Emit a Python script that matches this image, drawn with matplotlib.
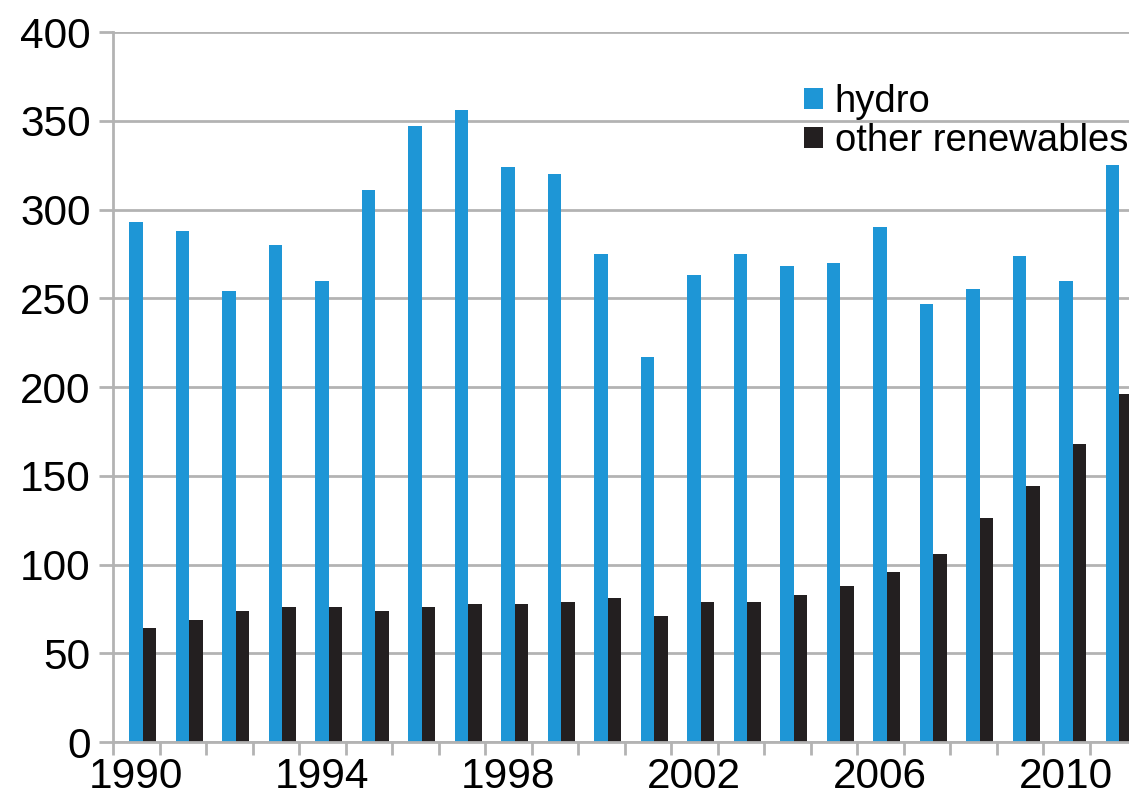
import matplotlib
matplotlib.use("Agg")
import matplotlib.pyplot as plt
import numpy as np

plt.rcParams['font.family'] = ['Liberation Sans', 'DejaVu Sans']

years = list(range(1990, 2012))
hydro = [293, 288, 254, 280, 260, 311, 347, 356, 324, 320, 275, 217,
         263, 275, 268, 270, 290, 247, 255, 274, 260, 325]
other = [64, 69, 74, 76, 76, 74, 76, 78, 78, 79, 81, 71,
         79, 79, 83, 88, 96, 106, 126, 144, 168, 196]
tick_labels = ['1990', '1994', '1998', '2002', '2006', '2010']

blue = '#1e96d6'
dark = '#231f20'
grey = '#b3b3b3'

fig = plt.figure(figsize=(11.29, 7.97), dpi=100)
ax = fig.add_axes([113 / 1129, 1 - 742 / 797, 1023 / 1129, 710 / 797])

x = np.arange(len(years))
w = 0.29
ax.bar(x - 0.01, hydro, width=w, color=blue, label='hydro', zorder=3)
ax.bar(x + 0.28, other, width=w, color=dark, label='other renewables', zorder=3)

ax.set_xlim(-0.5, len(years) - 0.5)
ax.set_ylim(0, 400)
ax.set_yticks(range(0, 401, 50))
ax.yaxis.grid(True, color=grey, linewidth=2, zorder=0)

# ticks at category boundaries, labels in the middle
ax.set_xticks(np.arange(-0.5, len(years), 1))
ax.set_xticklabels([])
label_pos = [years.index(int(t)) for t in tick_labels]
ax.set_xticks(label_pos, minor=True)
ax.set_xticklabels(tick_labels, minor=True)
ax.tick_params(axis='x', which='minor', length=0, labelsize=30.5, pad=11)
ax.tick_params(axis='x', which='major', length=9, width=2, color=grey)
ax.tick_params(axis='y', length=10, width=2, color=grey, labelsize=30.5, pad=6)

for s in ['top', 'right']:
    ax.spines[s].set_visible(False)
for s in ['left', 'bottom']:
    ax.spines[s].set_color(grey)
    ax.spines[s].set_linewidth(2)
    ax.spines[s].set_zorder(4)

fig.legend(loc='upper left', bbox_to_anchor=(804 / 1129, 1 - 84 / 797),
           frameon=False, fontsize=27.5, handlelength=0.5, handleheight=0.5,
           handletextpad=0.3, labelspacing=0.08, borderpad=0, borderaxespad=0)

fig.savefig('out.png', dpi=100)
